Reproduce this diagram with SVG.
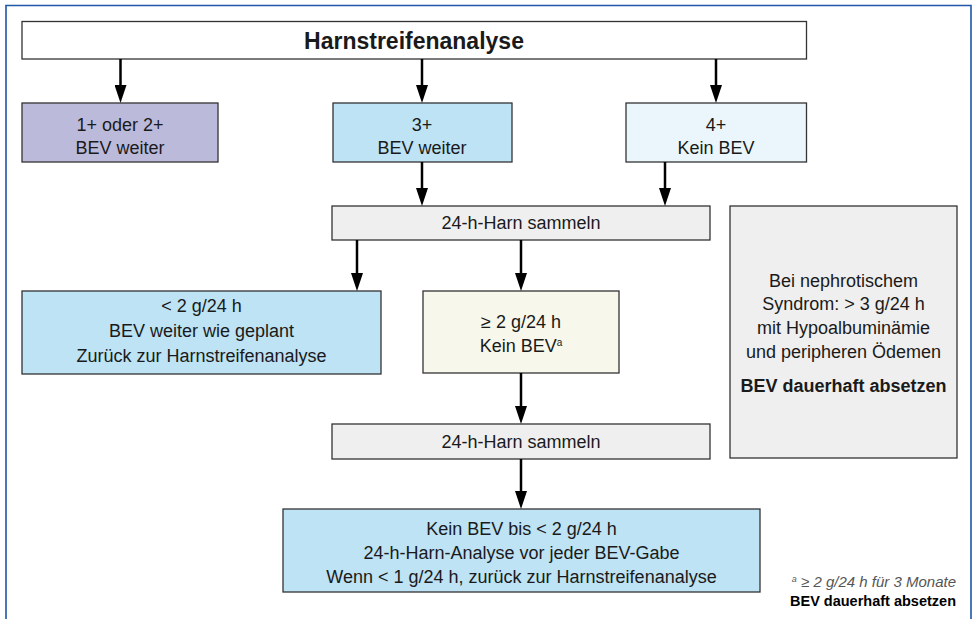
<svg xmlns="http://www.w3.org/2000/svg" width="974" height="619" viewBox="0 0 974 619">
<defs>
<marker id="ah" viewBox="0 0 18 12" refX="4" refY="6" markerWidth="18" markerHeight="12" markerUnits="userSpaceOnUse" orient="auto">
<path d="M0,0 L18,6 L0,12 z" fill="#000"/>
</marker>
<style>
.box{stroke:#333;stroke-width:1.3}
.t{font-family:"Liberation Sans",Arial,sans-serif;font-size:18px;fill:#1a1a1a;text-anchor:middle}
.b{font-weight:bold}
.conn line{stroke:#000;stroke-width:2.5;marker-end:url(#ah)}
.purple{fill:#bcbadb}
.blue{fill:#bde3f5}
.pale{fill:#eaf6fc}
.cream{fill:#f7f7ec}
.gray{fill:#efefef}
</style>
</defs>
<rect width="974" height="619" fill="#fff"/>
<path d="M6,619 V5.5 H971 V619" fill="none" stroke="#1f56a8" stroke-width="1.6"/>

<g id="n-title">
<rect class="box" x="22" y="21.5" width="784.5" height="37.5" fill="#fff"/>
<text class="t b" x="414" y="49" style="font-size:23px">Harnstreifenanalyse</text>
</g>
<g id="n-12">
<rect class="box purple" x="22" y="103" width="196" height="59"/>
<text class="t" x="120" y="131">1+ oder 2+</text>
<text class="t" x="120" y="154">BEV weiter</text>
</g>
<g id="n-3">
<rect class="box blue" x="333" y="103" width="179" height="59"/>
<text class="t" x="422" y="131">3+</text>
<text class="t" x="422" y="154">BEV weiter</text>
</g>
<g id="n-4">
<rect class="box pale" x="626" y="103" width="180.5" height="59"/>
<text class="t" x="716" y="131">4+</text>
<text class="t" x="716" y="154">Kein BEV</text>
</g>
<g id="n-24a">
<rect class="box gray" x="332" y="206" width="378" height="34"/>
<text class="t" x="521" y="229">24-h-Harn sammeln</text>
</g>
<g id="n-lt2">
<rect class="box blue" x="22" y="291" width="359" height="83"/>
<text class="t" x="201.5" y="312">&lt; 2 g/24 h</text>
<text class="t" x="201.5" y="337">BEV weiter wie geplant</text>
<text class="t" x="201.5" y="362">Zurück zur Harnstreifenanalyse</text>
</g>
<g id="n-ge2">
<rect class="box cream" x="423" y="291" width="196" height="82"/>
<text class="t" x="521" y="328">≥ 2 g/24 h</text>
<text class="t" x="521" y="352">Kein BEV<tspan dy="-6" style="font-size:10px">a</tspan></text>
</g>
<g id="n-24b">
<rect class="box gray" x="332" y="424" width="378" height="35"/>
<text class="t" x="521" y="448">24-h-Harn sammeln</text>
</g>
<g id="n-final">
<rect class="box blue" x="283" y="509" width="477" height="83"/>
<text class="t" x="521.5" y="535">Kein BEV bis &lt; 2 g/24 h</text>
<text class="t" x="521.5" y="559">24-h-Harn-Analyse vor jeder BEV-Gabe</text>
<text class="t" x="521.5" y="583">Wenn &lt; 1 g/24 h, zurück zur Harnstreifenanalyse</text>
</g>
<g id="n-nephro">
<rect class="box gray" x="730" y="206" width="227" height="252"/>
<text class="t" x="843.5" y="287">Bei nephrotischem</text>
<text class="t" x="843.5" y="310">Syndrom: &gt; 3 g/24 h</text>
<text class="t" x="843.5" y="334">mit Hypoalbuminämie</text>
<text class="t" x="843.5" y="358">und peripheren Ödemen</text>
<text class="t b" x="843.5" y="392">BEV dauerhaft absetzen</text>
</g>
<g id="footnote">
<text class="t" x="956" y="587" style="text-anchor:end;font-size:15px;font-style:italic;fill:#555"><tspan dy="-5" style="font-size:9px">a</tspan><tspan dy="5"> ≥ 2 g/24 h für 3 Monate</tspan></text>
<text class="t b" x="956" y="606" style="text-anchor:end;font-size:14.5px;fill:#000">BEV dauerhaft absetzen</text>
</g>

<g id="connectors" class="conn">
<line x1="120.5" y1="59" x2="120.5" y2="89"/>
<line x1="422" y1="59" x2="422" y2="89"/>
<line x1="716" y1="59" x2="716" y2="89"/>
<line x1="422" y1="162" x2="422" y2="192"/>
<line x1="665" y1="162" x2="665" y2="192"/>
<line x1="357" y1="240" x2="357" y2="277"/>
<line x1="521" y1="240" x2="521" y2="277"/>
<line x1="521" y1="373" x2="521" y2="410"/>
<line x1="521" y1="459" x2="521" y2="495"/>
</g>
</svg>
